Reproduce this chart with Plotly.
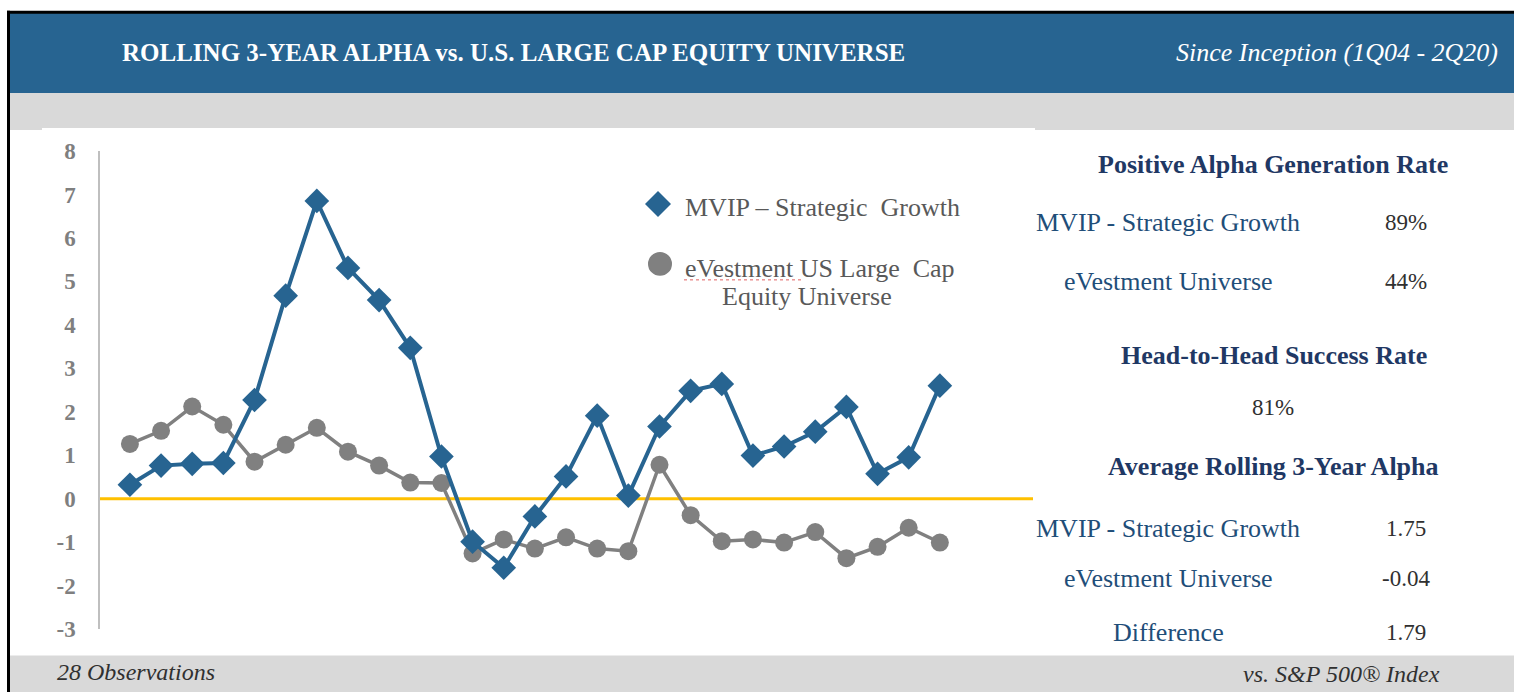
import plotly.graph_objects as go

# ---------------- data ----------------
periods = list(range(1, 28))
mvip = [0.32, 0.76, 0.80, 0.82, 2.27, 4.67, 6.85, 5.31, 4.57, 3.47,
        0.97, -0.99, -1.59, -0.41, 0.51, 1.91, 0.07, 1.66, 2.48, 2.64,
        0.99, 1.20, 1.54, 2.11, 0.57, 0.95, 2.60]
evest = [1.26, 1.56, 2.12, 1.70, 0.85, 1.24, 1.63, 1.08, 0.76, 0.37,
         0.36, -1.26, -0.94, -1.15, -0.89, -1.15, -1.21, 0.78, -0.38, -0.98,
         -0.94, -1.01, -0.77, -1.37, -1.11, -0.67, -1.01]
y_ticks = [-3, -2, -1, 0, 1, 2, 3, 4, 5, 6, 7, 8]
y_tick_text = ["-3", "-2", "-1", "0", "1", "2", "3", "4", "5", "6", "7", "8"]
legend_line1 = ["MVIP – Strategic  Growth", "eVestment US Large  Cap"]
legend_line2 = "Equity Universe"

title_text = "ROLLING 3-YEAR ALPHA vs. U.S. LARGE CAP EQUITY UNIVERSE"
subtitle_text = "Since Inception (1Q04 - 2Q20)"
footer_left = "28 Observations"
footer_right = "vs. S&P 500® Index"

pos_rate_labels = ["MVIP - Strategic Growth", "eVestment Universe"]
pos_rate_values = ["89%", "44%"]
h2h_value = "81%"
avg_labels = ["MVIP - Strategic Growth", "eVestment Universe", "Difference"]
avg_values = ["1.75", "-0.04", "1.79"]

# ---------------- layout helpers (page pixels) ----------------
W, H = 1514, 692
PL, PR, PT, PB = 100, 1033, 151, 629.5   # plot area in page pixels
BLUE = "#276491"
GRAY = "#808080"
NAVY = "#1f3864"
LABEL = "#1f4e79"
DARK = "#303030"
FONT = "Liberation Serif, serif"


def px(x):
    return (x - PL) / (PR - PL)


def py(y):
    return (PB - y) / (PB - PT)


fig = go.Figure()
fig.add_trace(go.Scatter(x=periods, y=evest, mode="lines+markers",
                         line=dict(color=GRAY, width=3.5),
                         marker=dict(symbol="circle", size=18, color=GRAY),
                         showlegend=False, cliponaxis=False))
fig.add_trace(go.Scatter(x=periods, y=mvip, mode="lines+markers",
                         line=dict(color=BLUE, width=4),
                         marker=dict(symbol="diamond", size=19, color=BLUE),
                         showlegend=False, cliponaxis=False))

RIGHT = W + 5
BOTTOM = H + 5
shapes = []
shapes.append(dict(type="rect", xref="paper", yref="paper", x0=px(8), x1=px(RIGHT),
                   y0=py(93), y1=py(12), fillcolor=BLUE, line_width=0, layer="below"))
shapes.append(dict(type="rect", xref="paper", yref="paper", x0=px(8), x1=px(RIGHT),
                   y0=py(130), y1=py(93), fillcolor="#d9d9d9", line_width=0, layer="below"))
shapes.append(dict(type="rect", xref="paper", yref="paper", x0=px(42), x1=px(1035),
                   y0=py(130), y1=py(128), fillcolor="white", line_width=0, layer="below"))
shapes.append(dict(type="rect", xref="paper", yref="paper", x0=px(8), x1=px(RIGHT),
                   y0=py(BOTTOM), y1=py(656), fillcolor="#d9d9d9", line_width=0, layer="below"))
shapes.append(dict(type="line", xref="paper", yref="paper", x0=px(7), x1=px(RIGHT),
                   y0=py(12), y1=py(12), line=dict(color="black", width=3)))
shapes.append(dict(type="line", xref="paper", yref="paper", x0=px(8.5), x1=px(8.5),
                   y0=py(10.5), y1=py(BOTTOM), line=dict(color="black", width=3)))
# zero line
shapes.append(dict(type="line", xref="paper", yref="y", x0=0, x1=1, y0=0, y1=0,
                   line=dict(color="#ffc000", width=3), layer="below"))
# legend markers
lx, ly, d = 658, 204, 13
shapes.append(dict(type="path", xref="paper", yref="paper",
                   path=f"M {px(lx-d)} {py(ly)} L {px(lx)} {py(ly-d)} L {px(lx+d)} {py(ly)} L {px(lx)} {py(ly+d)} Z",
                   fillcolor=BLUE, line_width=0))
cx, cy, r = 660, 264, 12
shapes.append(dict(type="circle", xref="paper", yref="paper",
                   x0=px(cx - r), x1=px(cx + r), y0=py(cy + r), y1=py(cy - r),
                   fillcolor=GRAY, line_width=0))
# spell-check squiggle under "eVestment"
shapes.append(dict(type="line", xref="paper", yref="paper", x0=px(684), x1=px(803),
                   y0=py(280), y1=py(280), line=dict(color="#e06060", width=1, dash="dot")))

ann = []


def text(x, y, s, size, color, bold=False, italic=False, anchor="center"):
    if bold:
        s = f"<b>{s}</b>"
    if italic:
        s = f"<i>{s}</i>"
    ann.append(dict(x=px(x), y=py(y), xref="paper", yref="paper", text=s, showarrow=False,
                    xanchor=anchor, yanchor="middle",
                    font=dict(family=FONT, size=size, color=color)))


text(120, 52, title_text, 25, "white", bold=True, anchor="left")
text(1500, 52, subtitle_text, 26, "white", italic=True, anchor="right")
text(55, 673, footer_left, 24, DARK, italic=True, anchor="left")
text(1442, 675, footer_right, 24, DARK, italic=True, anchor="right")

# legend labels
text(683, 208, legend_line1[0], 26, "#595959", anchor="left")
text(683, 269, legend_line1[1], 26, "#595959", anchor="left")
text(807, 297, legend_line2, 26, "#595959")

# right panel
text(1273, 165, "Positive Alpha Generation Rate", 26, NAVY, bold=True)
text(1168, 223, pos_rate_labels[0], 26, LABEL)
text(1406, 223, pos_rate_values[0], 23, DARK)
text(1168, 282, pos_rate_labels[1], 26, LABEL)
text(1406, 282, pos_rate_values[1], 23, DARK)
text(1274, 356, "Head-to-Head Success Rate", 26, NAVY, bold=True)
text(1273, 408, h2h_value, 23, DARK)
text(1273, 467, "Average Rolling 3-Year Alpha", 26, NAVY, bold=True)
avg_y = [529, 579, 633]
for lbl, val, yy in zip(avg_labels, avg_values, avg_y):
    text(1168, yy, lbl, 26, LABEL)
    text(1406, yy, val, 23, DARK)

fig.update_layout(
    width=W, height=H,
    margin=dict(l=PL, r=W - PR, t=PT, b=H - PB, pad=0),
    paper_bgcolor="white", plot_bgcolor="white",
    shapes=shapes, annotations=ann,
    xaxis=dict(range=[0.04, 29.99], showgrid=False, zeroline=False, showticklabels=False,
               showline=False, ticks=""),
    yaxis=dict(range=[-3, 8], tickvals=y_ticks, ticktext=y_tick_text, showgrid=False,
               zeroline=False, showline=True, linecolor="#bfbfbf", linewidth=1.5, ticks="",
               ticklabelstandoff=18,
               tickfont=dict(family=FONT, size=23, color="#7f7f7f", weight="bold")),
    showlegend=False,
)

fig.write_html("out.html", config={"displayModeBar": False},
               post_script="document.body.style.margin='0';document.body.style.overflow='hidden';")
